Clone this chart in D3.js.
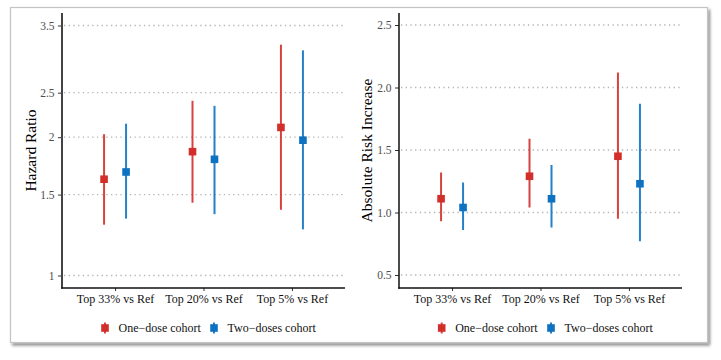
<!DOCTYPE html>
<html>
<head>
<meta charset="utf-8">
<script src="https://cdn.jsdelivr.net/npm/d3@7"></script>
<style>
html,body{margin:0;padding:0;background:#fff;}
svg{display:block;}
</style>
</head>
<body>
<svg id="chart" width="721" height="360"></svg>
<script>
// ---- data ----
const categories = ["Top 33% vs Ref", "Top 20% vs Ref", "Top 5% vs Ref"];
const seriesNames = ["One\u2212dose cohort", "Two\u2212doses cohort"];

const hrOneEst = [1.62, 1.86, 2.10];
const hrOneLo  = [1.29, 1.44, 1.39];
const hrOneHi  = [2.03, 2.40, 3.18];
const hrTwoEst = [1.68, 1.79, 1.97];
const hrTwoLo  = [1.33, 1.36, 1.26];
const hrTwoHi  = [2.14, 2.34, 3.09];

const ariOneEst = [1.11, 1.29, 1.45];
const ariOneLo  = [0.93, 1.04, 0.95];
const ariOneHi  = [1.32, 1.59, 2.12];
const ariTwoEst = [1.04, 1.11, 1.23];
const ariTwoLo  = [0.86, 0.88, 0.77];
const ariTwoHi  = [1.24, 1.38, 1.87];

const hrTicks = [1, 1.5, 2, 2.5, 3.5];
const hrTickLabels = ["1", "1.5", "2", "2.5", "3.5"];
const ariTicks = [0.5, 1.0, 1.5, 2.0, 2.5];
const ariTickLabels = ["0.5", "1.0", "1.5", "2.0", "2.5"];

const colors = ["#d22f2a", "#0c72c1"];
const FONT = "'Liberation Serif','Times New Roman',serif";

// ---- drawing ----
const svg = d3.select("#chart");
const defs = svg.append("defs");
const f = defs.append("filter").attr("id", "shadow").attr("x", "-5%").attr("y", "-5%").attr("width", "110%").attr("height", "115%");
f.append("feDropShadow").attr("dx", 2).attr("dy", 2.5).attr("stdDeviation", 1.6).attr("flood-color", "#000").attr("flood-opacity", 0.45);

svg.append("rect").attr("x", 10.5).attr("y", 7.5).attr("width", 697).attr("height", 335)
  .attr("fill", "#fff").attr("stroke", "#c4c4c4").attr("stroke-width", 1.2)
  .attr("filter", "url(#shadow)");

function makeRows(est, lo, hi) {
  return categories.map((c, i) => ({cat: c, est: est[i], lo: lo[i], hi: hi[i]}));
}

function panel(cfg) {
  const g = svg.append("g");
  const x = d3.scalePoint().domain(categories).range([cfg.x0, cfg.x1]).padding(0.6);
  const y = cfg.y;
  const dodge = 11;

  // gridlines
  g.selectAll(".grid").data(cfg.ticks).enter().append("line")
    .attr("x1", cfg.x0 + 2).attr("x2", cfg.x1)
    .attr("y1", d => y(d)).attr("y2", d => y(d))
    .attr("stroke", "#b3b3b3").attr("stroke-width", 1.3)
    .attr("stroke-dasharray", "1.3,3.4");

  // y axis
  const yAxis = d3.axisLeft(y).tickValues(cfg.ticks)
    .tickFormat((d, i) => cfg.tickLabels[i]).tickSize(4).tickPadding(3.5);
  const ya = g.append("g").attr("transform", `translate(${cfg.x0},0)`).call(yAxis);
  ya.select(".domain").remove();
  ya.selectAll(".tick line").attr("stroke", "#333").attr("stroke-width", 1);
  ya.selectAll(".tick text").attr("fill", "#4d4d4d").style("font-family", FONT).style("font-size", "11.5px");

  // x axis
  const xAxis = d3.axisBottom(x).tickSize(3).tickPadding(3);
  const xa = g.append("g").attr("transform", `translate(0,${cfg.bottom})`).call(xAxis);
  xa.select(".domain").remove();
  xa.selectAll(".tick line").attr("stroke", "#333").attr("stroke-width", 1);
  xa.selectAll(".tick text").attr("fill", "#111").style("font-family", FONT).style("font-size", "12px");

  // axis lines
  g.append("line").attr("x1", cfg.x0).attr("x2", cfg.x0).attr("y1", cfg.top).attr("y2", cfg.bottom + 0.75)
    .attr("stroke", cfg.yAxisColor).attr("stroke-width", cfg.yAxisWidth);
  g.append("line").attr("x1", cfg.x0 - 0.75).attr("x2", cfg.x1).attr("y1", cfg.bottom).attr("y2", cfg.bottom)
    .attr("stroke", "#111").attr("stroke-width", 1.5);

  // y title
  g.append("text")
    .attr("transform", `translate(${cfg.titleX},${(cfg.top + cfg.bottom) / 2}) rotate(-90)`)
    .attr("text-anchor", "middle").attr("dy", "0.35em")
    .style("font-family", FONT).style("font-size", "15.5px").attr("fill", "#000")
    .text(cfg.title);

  // series
  cfg.series.forEach((rows, si) => {
    const off = si === 0 ? -dodge : dodge;
    const sg = g.append("g");
    sg.selectAll("line.err").data(rows).enter().append("line")
      .attr("x1", d => x(d.cat) + off).attr("x2", d => x(d.cat) + off)
      .attr("y1", d => y(d.lo)).attr("y2", d => y(d.hi))
      .attr("stroke", colors[si]).attr("stroke-width", 2).attr("stroke-opacity", 0.9);
    sg.selectAll("rect.pt").data(rows).enter().append("rect")
      .attr("x", d => x(d.cat) + off - 3.8).attr("y", d => y(d.est) - 3.8)
      .attr("width", 7.6).attr("height", 7.6).attr("fill", colors[si]);
  });

  // legend
  const lg = g.append("g");
  const ly = 328;
  cfg.legendX.forEach((lx, si) => {
    lg.append("line").attr("x1", lx).attr("x2", lx).attr("y1", ly - 5.5).attr("y2", ly + 5.5)
      .attr("stroke", colors[si]).attr("stroke-width", 2).attr("stroke-opacity", 0.9);
    lg.append("rect").attr("x", lx - 3.8).attr("y", ly - 3.8).attr("width", 7.6).attr("height", 7.6)
      .attr("fill", colors[si]);
    lg.append("text").attr("x", lx + 13.5).attr("y", ly).attr("dy", "0.35em")
      .style("font-family", FONT).style("font-size", "12px").attr("fill", "#111")
      .text(seriesNames[si]);
  });
}

// Left: hazard ratio, log scale (domain 1..3.5 with 5% expansion in log space)
const hrLogMin = Math.log(1), hrLogMax = Math.log(3.5), hrExp = (hrLogMax - hrLogMin) * 0.05;
panel({
  x0: 62, x1: 345, top: 13, bottom: 288,
  y: d3.scaleLog().domain([Math.exp(hrLogMin - hrExp), Math.exp(hrLogMax + hrExp)]).range([288, 13]),
  ticks: hrTicks, tickLabels: hrTickLabels,
  title: "Hazard Ratio", titleX: 30.5,
  yAxisColor: "#444", yAxisWidth: 2,
  series: [makeRows(hrOneEst, hrOneLo, hrOneHi), makeRows(hrTwoEst, hrTwoLo, hrTwoHi)],
  legendX: [105, 214]
});

// Right: absolute risk increase, linear
panel({
  x0: 399, x1: 682, top: 13, bottom: 288,
  y: d3.scaleLinear().domain([0.4, 2.6]).range([287.5, 12.5]),
  ticks: ariTicks, tickLabels: ariTickLabels,
  title: "Absolute Risk Increase", titleX: 366.5,
  yAxisColor: "#111", yAxisWidth: 1.5,
  series: [makeRows(ariOneEst, ariOneLo, ariOneHi), makeRows(ariTwoEst, ariTwoLo, ariTwoHi)],
  legendX: [441.7, 551]
});
</script>
</body>
</html>
